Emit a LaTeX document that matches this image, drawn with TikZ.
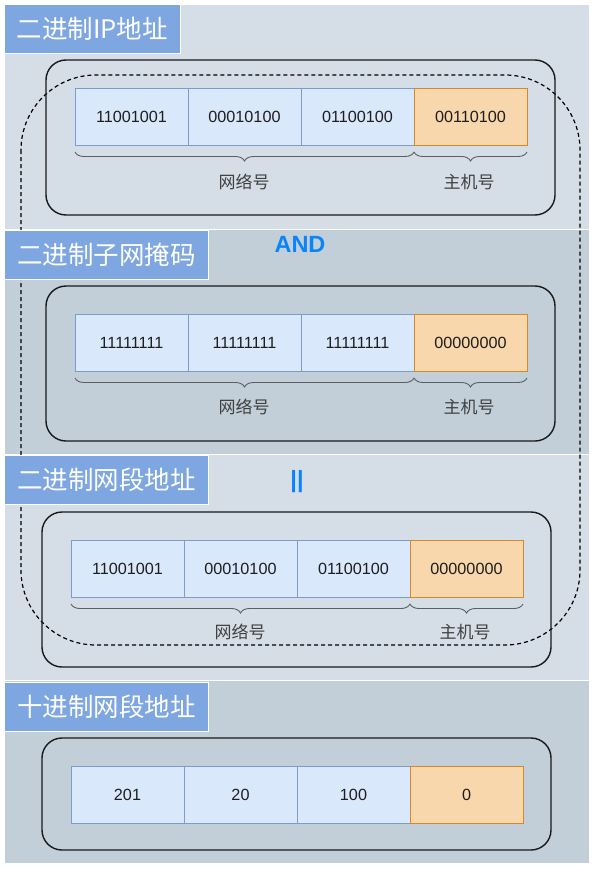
\documentclass[tikz,border=0pt]{standalone}
\usepackage{fontspec}
\setmainfont{Liberation Sans}
\newfontfamily\cjk{Noto Sans CJK SC}
\usetikzlibrary{decorations.pathreplacing}
\definecolor{bandA}{HTML}{D5DEE6}
\definecolor{bandB}{HTML}{C2CFD9}
\definecolor{titlebg}{HTML}{7EA6E0}
\definecolor{cellblue}{HTML}{DAE8FC}
\definecolor{cellblueline}{HTML}{7C9CCB}
\definecolor{cellorange}{HTML}{F9D7AC}
\definecolor{cellorangeline}{HTML}{D5892A}
\definecolor{andblue}{HTML}{0A84FA}
\definecolor{txt}{HTML}{1E1E1E}
\definecolor{bracecol}{HTML}{5A5F66}
\begin{document}
\begin{tikzpicture}[x=1pt,y=-1pt,
  band/.style={draw=white,line width=1pt},
  titlebox/.style={fill=titlebg,draw=white,line width=0.8pt,text=white,
    font=\cjk\fontsize{25.5}{30}\selectfont,anchor=north west,inner sep=0pt,
    minimum height=49pt},
  frame/.style={draw=black!90,line width=1.4pt,rounded corners=20pt},
  cellb/.style={fill=cellblue,draw=cellblueline,line width=0.8pt,anchor=north west,
    inner sep=0pt,outer sep=0pt,minimum width=113pt,minimum height=57pt,
    text=txt,font=\fontsize{16.2}{19}\selectfont},
  cello/.style={cellb,fill=cellorange,draw=cellorangeline},
  bracestyle/.style={draw=bracecol,line width=0.9pt,
    decorate,decoration={brace,mirror,amplitude=9pt}},
  lbl/.style={text=txt!85,font=\cjk\fontsize{17}{20}\selectfont,inner sep=0pt},
  optxt/.style={text=andblue,font=\bfseries\fontsize{23.5}{27}\selectfont,inner sep=0pt}
]
\useasboundingbox (0,0) rectangle (600,878);
\fill[white] (0,0) rectangle (600,878);
% bands
\path[band,fill=bandA] (4,4) rectangle (589,229.5);
\path[band,fill=bandB] (4,229.5) rectangle (589,454.5);
\path[band,fill=bandA] (4,454.5) rectangle (589,680.5);
\path[band,fill=bandB] (4,680.5) rectangle (589,863);
% dashed outline
\draw[line width=1.2pt,dash pattern=on 4pt off 3pt,rounded corners=75pt]
  (21,75) rectangle (580,645);
% titles
\node[titlebox,minimum width=176pt] (t1) at (4,4) {二进制IP地址};
\node[titlebox,minimum width=204pt] (t2) at (4,230) {二进制子网掩码};
\node[titlebox,minimum width=204pt] (t3) at (4,455) {二进制网段地址};
\node[titlebox,minimum width=204pt] (t4) at (4,682) {十进制网段地址};
% frames
\draw[frame] (46,60) rectangle (555,215);
\draw[frame] (46,286) rectangle (555,441);
\draw[frame] (42,512) rectangle (551,667);
\draw[frame] (42,738) rectangle (551,850);
% row 1
\foreach \t [count=\i] in {11001001,00010100,01100100}
  \node[cellb] (a\i) at ({75+113*(\i-1)},88) {\t};
\node[cello] (a4) at (a3.north east) {00110100};
% row 2
\foreach \t [count=\i] in {11111111,11111111,11111111}
  \node[cellb] (b\i) at ({75+113*(\i-1)},314) {\t};
\node[cello] (b4) at (b3.north east) {00000000};
% row 3
\foreach \t [count=\i] in {11001001,00010100,01100100}
  \node[cellb] (c\i) at ({71+113*(\i-1)},540) {\t};
\node[cello] (c4) at (c3.north east) {00000000};
% row 4
\foreach \t [count=\i] in {201,20,100}
  \node[cellb] (d\i) at ({71+113*(\i-1)},766) {\t};
\node[cello] (d4) at (d3.north east) {0};
% braces
\foreach \r in {a,b,c}{
  \draw[bracestyle] ([yshift=-7pt]\r1.south west) -- ([yshift=-7pt]\r3.south east);
  \draw[bracestyle] ([yshift=-7pt]\r4.south west) -- ([yshift=-7pt]\r4.south east);
}
% labels
\node[lbl] (la1) at (244,182) {网络号};
\node[lbl] (la2) at (469,182) {主机号};
\node[lbl] (lb1) at (244,407) {网络号};
\node[lbl] (lb2) at (469,407) {主机号};
\node[lbl] (lc1) at (240,632) {网络号};
\node[lbl] (lc2) at (465,632) {主机号};
% operators
\node[optxt] (and) at (300,244) {AND};
\node[optxt] (eq) at (297,482) {||};
\end{tikzpicture}
\end{document}
